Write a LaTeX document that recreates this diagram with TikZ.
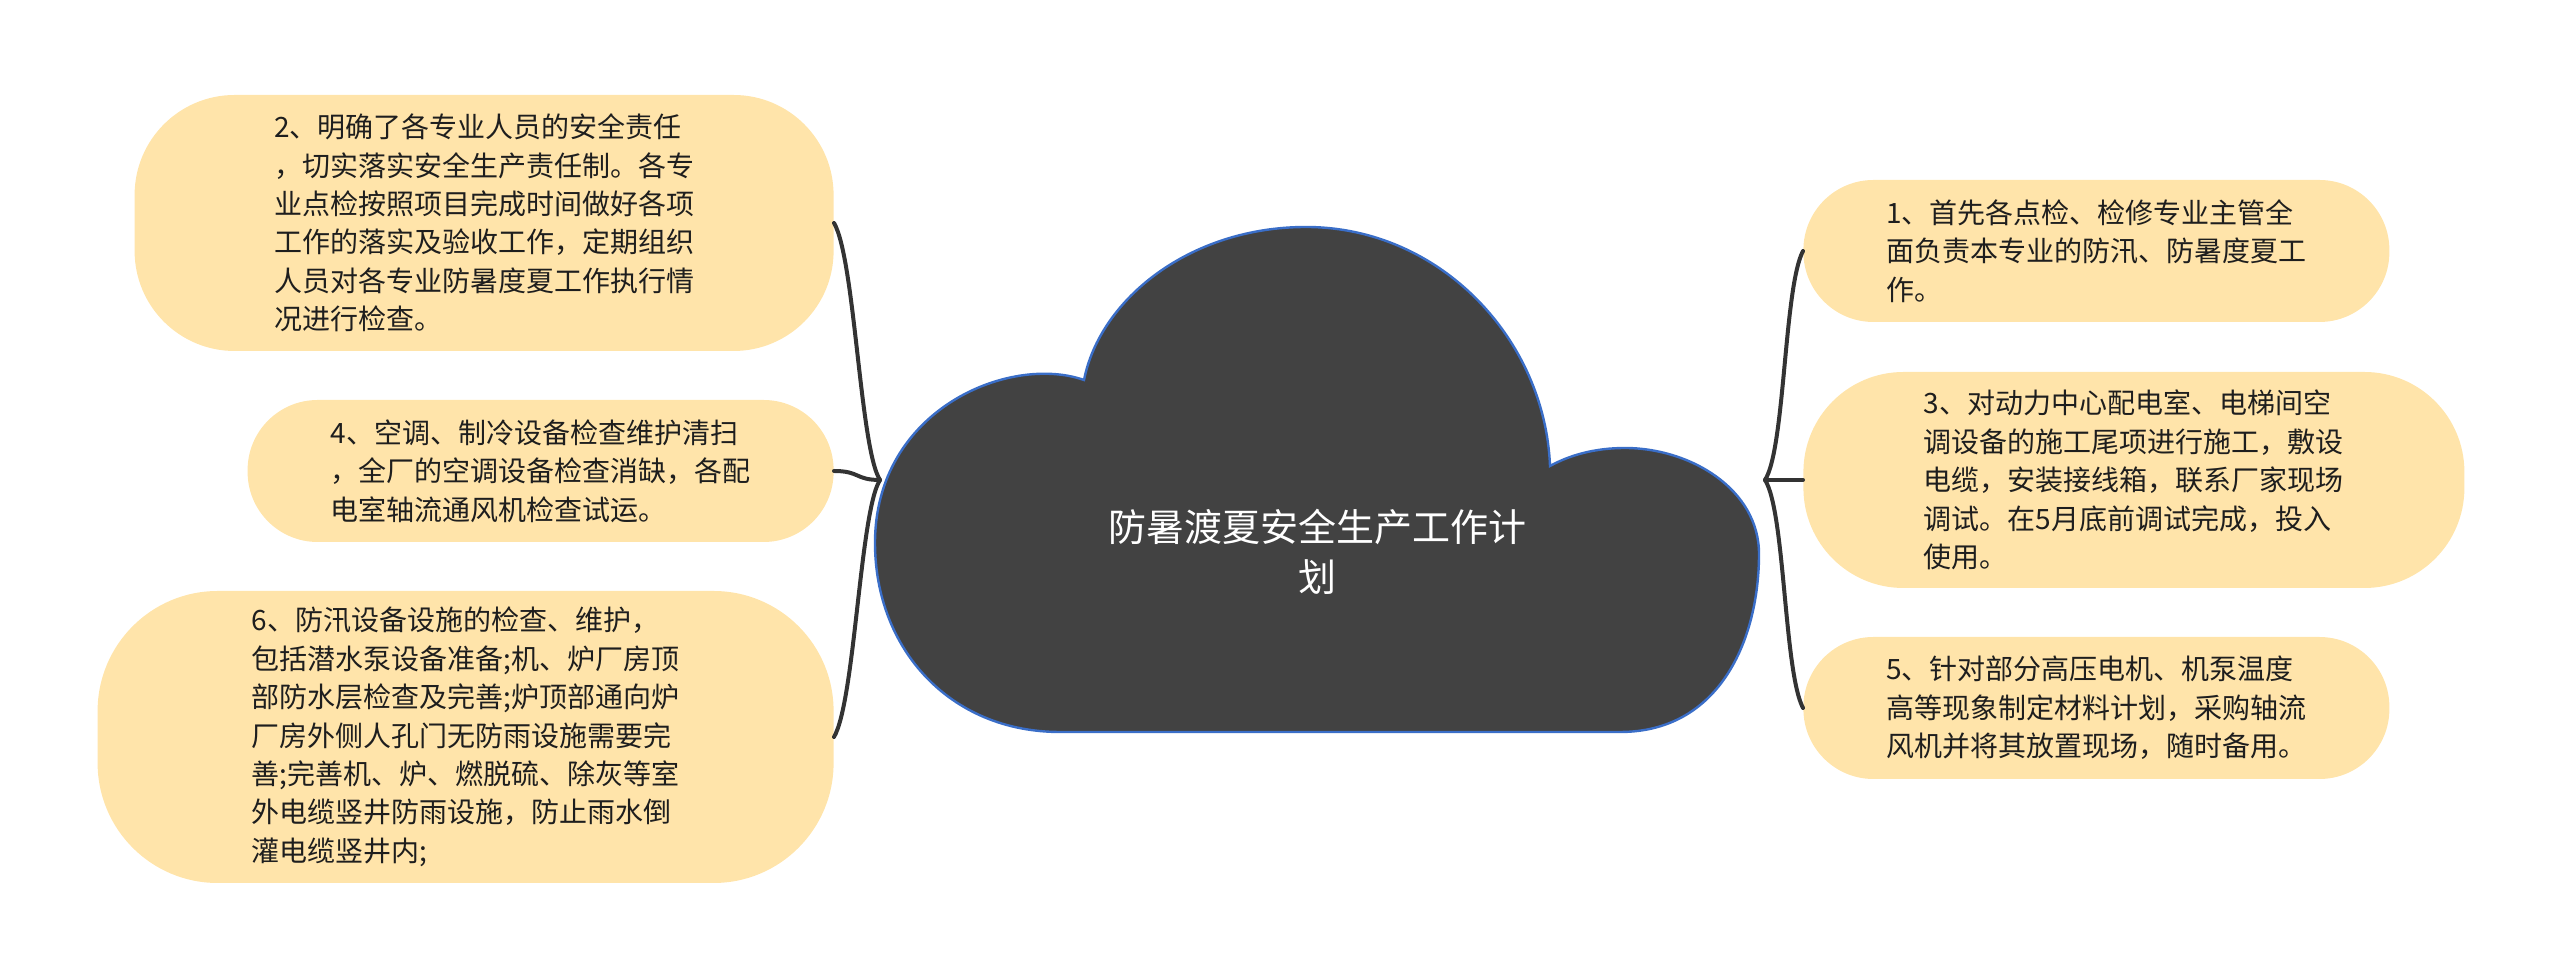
\documentclass[tikz,border=0pt]{standalone}
\usepackage{fontspec}
\usepackage{xcolor}
\usepackage{tikz}
\newfontfamily\cjksans{Noto Sans CJK SC}
\definecolor{cloudgray}{RGB}{66,66,66}
\definecolor{cloudline}{RGB}{58,110,200}
\definecolor{boxfill}{RGB}{255,228,170}
\definecolor{linkgray}{RGB}{51,51,51}
\definecolor{textdark}{RGB}{30,30,30}

\begin{document}
\begin{tikzpicture}[x=0.5pt,y=0.5pt,
    topic/.style={fill=boxfill, rounded corners=#1, inner sep=0pt, align=left, text=textdark,
      font=\cjksans\fontsize{14pt}{19.2pt}\selectfont},
    link/.style={linkgray, line width=2pt, line cap=round}]
    \useasboundingbox (0,0) rectangle (2560,979);
    % central cloud
    \draw[fill=cloudgray, draw=cloudline, line width=1.2pt]
        (1084,599) .. controls (1010,625) and (875,570) .. (875,436)
        .. controls (875,330) and (950,247) .. (1060,247)
        -- (1620,247)
        .. controls (1720,247) and (1759,340) .. (1759,425)
        .. controls (1759,490) and (1690,531) .. (1625,531)
        .. controls (1595,531) and (1570,524) .. (1550,513)
        .. controls (1545,640) and (1440,752) .. (1306,752)
        .. controls (1190,752) and (1100,680) .. (1084,599) -- cycle;
    \node[text=white, align=center, font=\cjksans\fontsize{19pt}{25pt}\selectfont] (title) at (1317,427)
        {防暑渡夏安全生产工作计\\划};
    % left items
    \node[topic=50pt, minimum width=349.5pt, minimum height=128pt, anchor=east] (plan2) at (834,756)
        {2、明确了各专业人员的安全责任\\，切实落实安全生产责任制。各专\\业点检按照项目完成时间做好各项\\工作的落实及验收工作，定期组织\\人员对各专业防暑度夏工作执行情\\况进行检查。};
    \node[topic=35pt, minimum width=293pt, minimum height=71pt, anchor=east] (plan4) at (834,508)
        {4、空调、制冷设备检查维护清扫\\，全厂的空调设备检查消缺，各配\\电室轴流通风机检查试运。};
    \node[topic=60pt, minimum width=368pt, minimum height=146pt, anchor=east] (plan6) at (834,242)
        {6、防汛设备设施的检查、维护，\\包括潜水泵设备准备;机、炉厂房顶\\部防水层检查及完善;炉顶部通向炉\\厂房外侧人孔门无防雨设施需要完\\善;完善机、炉、燃脱硫、除灰等室\\外电缆竖井防雨设施，防止雨水倒\\灌电缆竖井内;};
    % right items
    \node[topic=35pt, minimum width=293pt, minimum height=71pt, anchor=west] (plan1) at (1803,728)
        {1、首先各点检、检修专业主管全\\面负责本专业的防汛、防暑度夏工\\作。};
    \node[topic=50pt, minimum width=330.5pt, minimum height=108pt, anchor=west] (plan3) at (1803,499)
        {3、对动力中心配电室、电梯间空\\调设备的施工尾项进行施工，敷设\\电缆，安装接线箱，联系厂家现场\\调试。在5月底前调试完成，投入\\使用。};
    \node[topic=35pt, minimum width=293pt, minimum height=71pt, anchor=west] (plan5) at (1803,271)
        {5、针对部分高压电机、机泵温度\\高等现象制定材料计划，采购轴流\\风机并将其放置现场，随时备用。};
    % connectors
    \coordinate (hubL) at (880,499);
    \coordinate (hubR) at (1765,499);
    \draw[link] (hubL) .. controls (860,530) and (855,720) .. (plan2.east);
    \draw[link] (hubL) .. controls (855,499) and (860,508) .. (plan4.east);
    \draw[link] (hubL) .. controls (860,468) and (855,278) .. (plan6.east);
    \draw[link] (hubR) .. controls (1785,530) and (1784,692) .. (plan1.west);
    \draw[link] (hubR) -- (plan3.west);
    \draw[link] (hubR) .. controls (1785,468) and (1784,307) .. (plan5.west);
\end{tikzpicture}
\end{document}
